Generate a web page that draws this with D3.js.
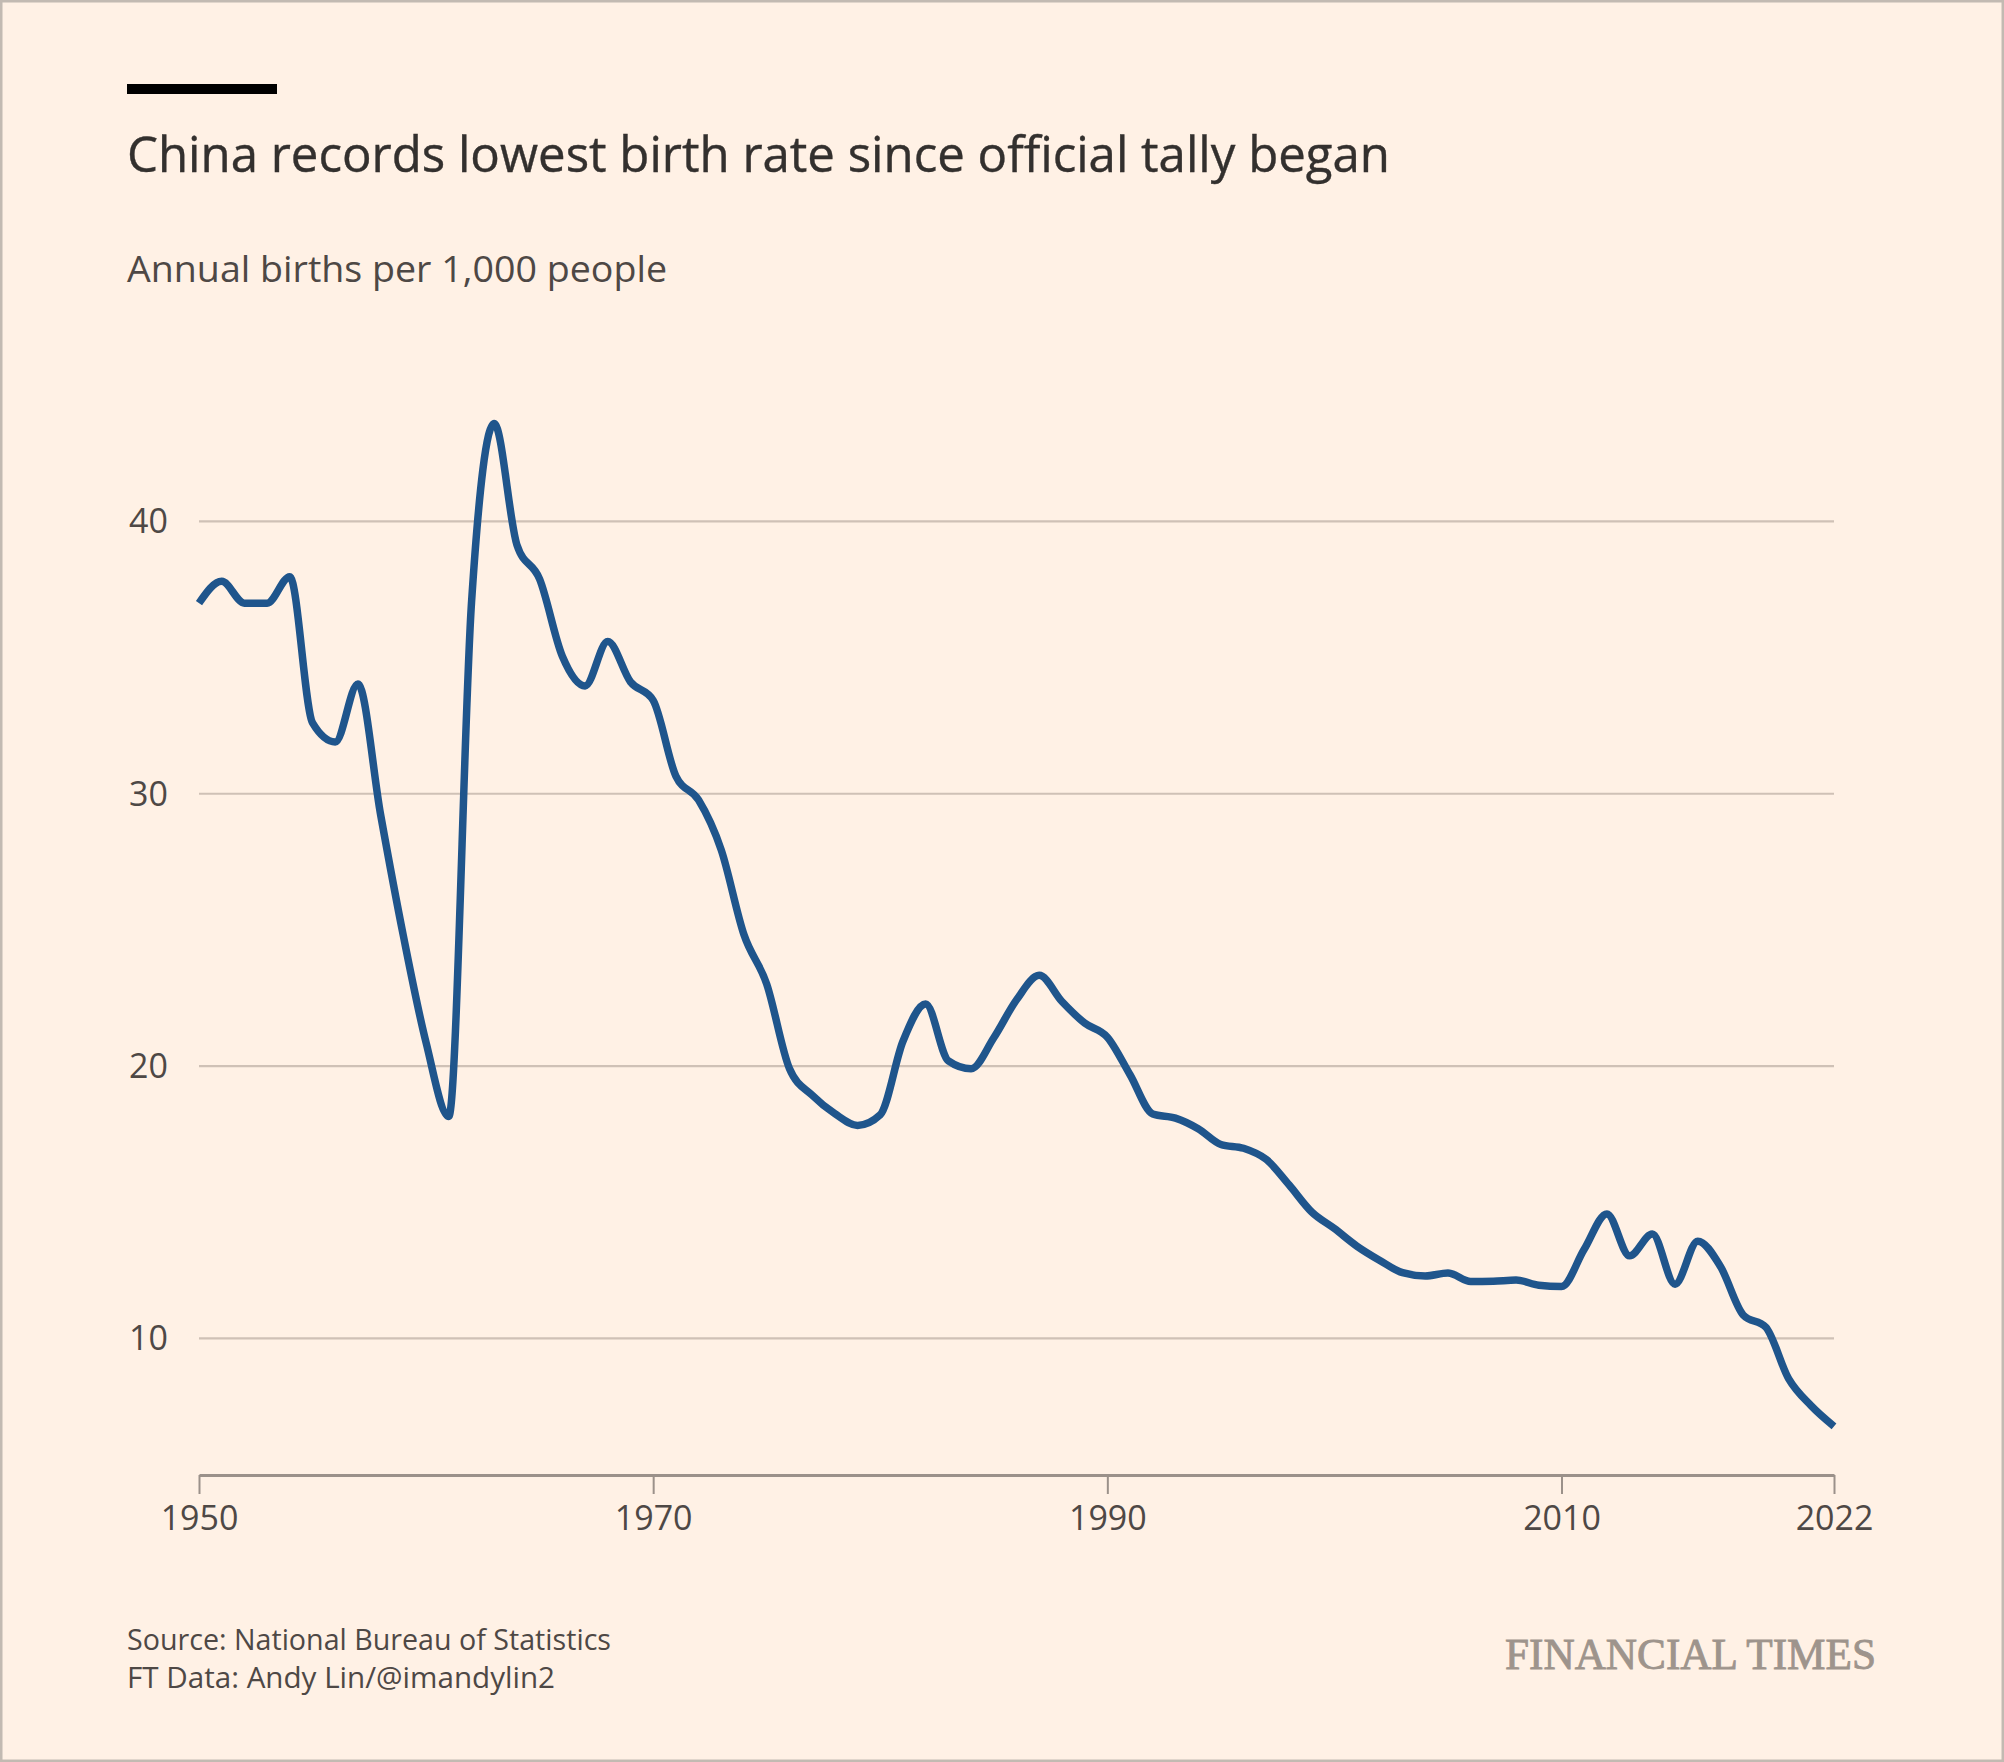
<!DOCTYPE html>
<html>
<head>
<meta charset="utf-8">
<script src="https://cdn.jsdelivr.net/npm/d3@7"></script>
<style>
  html, body { margin: 0; padding: 0; background: #fff1e5; }
  svg { display: block; }
</style>
</head>
<body>
<svg id="chart" width="2004" height="1762"></svg>
<script>
// ---- Data (China crude birth rate, births per 1,000 people) ----
const years = d3.range(1950, 2023);
const birthRate = [
  37.0, 37.8, 37.0, 37.0, 37.97, 32.6, 31.9, 34.03, 29.22, 24.78,
  20.86, 18.15, 37.01, 43.6, 39.14, 37.88, 35.05, 33.96, 35.59, 34.11,
  33.43, 30.65, 29.77, 27.93, 24.82, 23.01, 19.91, 18.93, 18.25, 17.82,
  18.21, 20.91, 22.28, 20.19, 19.90, 21.04, 22.43, 23.33, 22.37, 21.58,
  21.06, 19.68, 18.24, 18.09, 17.70, 17.12, 16.98, 16.57, 15.64, 14.64,
  14.03, 13.38, 12.86, 12.41, 12.29, 12.40, 12.09, 12.10, 12.14, 11.95,
  11.90, 13.27, 14.57, 13.03, 13.83, 11.99, 13.57, 12.64, 10.86, 10.41,
  8.52, 7.52, 6.77
];
const yTicks = [10, 20, 30, 40];
const xTicks = [1950, 1970, 1990, 2010, 2022];
const titleText = "China records lowest birth rate since official tally began";
const subtitleText = "Annual births per 1,000 people";
const sourceLines = ["Source: National Bureau of Statistics", "FT Data: Andy Lin/@imandylin2"];
const brandText = "FINANCIAL TIMES";

const data = years.map((y, i) => ({ year: y, value: birthRate[i] }));

const W = 2004, H = 1762;
const svg = d3.select("#chart");
const FONT = "'Open Sans', 'Noto Sans', sans-serif";

// background + border
svg.append("rect").attr("x", 0).attr("y", 0).attr("width", W).attr("height", H)
  .attr("fill", "#fff1e5");
svg.append("rect").attr("x", 1.25).attr("y", 1.25).attr("width", W - 2.5).attr("height", H - 2.5)
  .attr("fill", "none").attr("stroke", "#c2bab2").attr("stroke-width", 2.5);

// scales
const x = d3.scaleLinear().domain([1950, 2022]).range([199, 1834]);
const y = d3.scaleLinear().domain([5, 45]).range([1474.5, 385.3]);

function fit(sel, target) {
  const node = sel.node();
  const w = node.getComputedTextLength();
  if (w > 0 && Math.abs(w - target) > 2) {
    sel.attr("textLength", target).attr("lengthAdjust", "spacingAndGlyphs");
  }
}

// top bar
svg.append("rect").attr("x", 127).attr("y", 84).attr("width", 150).attr("height", 10)
  .attr("fill", "#000000");

// title
const title = svg.append("text").attr("x", 127).attr("y", 172)
  .attr("font-family", FONT).attr("font-size", 50).attr("fill", "#33302e")
  .attr("stroke", "#33302e").attr("stroke-width", 0.4)
  .text(titleText);
fit(title, 1263);

// subtitle
const sub = svg.append("text").attr("x", 127).attr("y", 282)
  .attr("font-family", FONT).attr("font-size", 37).attr("fill", "#4e4845")
  .text(subtitleText);
fit(sub, 540);

// gridlines
const grid = svg.append("g");
grid.selectAll("line").data(yTicks).join("line")
  .attr("x1", x(1950)).attr("x2", x(2022))
  .attr("y1", d => y(d)).attr("y2", d => y(d))
  .attr("stroke", "#cfc1b6").attr("stroke-width", 2.2);

// y labels
svg.append("g").selectAll("text").data(yTicks).join("text")
  .attr("x", 168).attr("y", d => y(d) + 12)
  .attr("text-anchor", "end")
  .attr("font-family", FONT).attr("font-size", 34).attr("fill", "#4e4845")
  .text(d => d);

// x axis
const xAxis = d3.axisBottom(x).tickValues(xTicks).tickFormat(d3.format("d"))
  .tickSize(19).tickSizeOuter(0).tickPadding(12);
const gx = svg.append("g").attr("transform", `translate(0, 1475)`).call(xAxis);
gx.select(".domain").attr("stroke", "#9b918a").attr("stroke-width", 2.8);
gx.selectAll(".tick line").attr("stroke", "#9b918a").attr("stroke-width", 2);
gx.selectAll(".tick text").attr("font-family", FONT).attr("font-size", 34)
  .attr("fill", "#4e4845");

// line
const line = d3.line().x(d => x(d.year)).y(d => y(d.value)).curve(d3.curveMonotoneX);
svg.append("path").datum(data)
  .attr("d", line)
  .attr("fill", "none")
  .attr("stroke", "#1f558c")
  .attr("stroke-width", 7.5)
  .attr("stroke-linejoin", "round");

// source
svg.append("g").selectAll("text").data(sourceLines).join("text")
  .attr("x", 127).attr("y", (d, i) => 1650 + i * 38)
  .attr("font-family", FONT).attr("font-size", 30).attr("fill", "#4e4845")
  .text(d => d)
  .each(function(d, i) { fit(d3.select(this), i === 0 ? 484 : 428); });

// brand
const brand = svg.append("text").attr("x", 1505).attr("y", 1669)
  .attr("font-family", "'Liberation Serif', 'DejaVu Serif', serif")
  .attr("font-size", 45).attr("fill", "#9e948c")
  .attr("stroke", "#9e948c").attr("stroke-width", 0.9)
  .text(brandText);
fit(brand, 371);
</script>
</body>
</html>
